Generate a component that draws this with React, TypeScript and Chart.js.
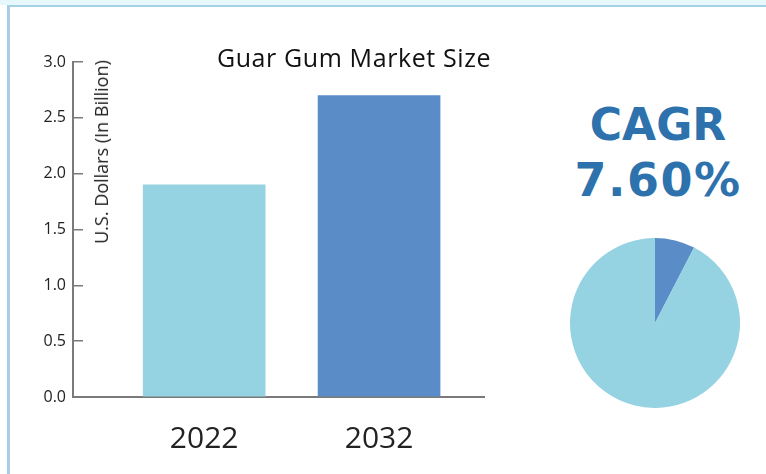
import React, { useEffect, useRef } from "react";
import { Chart, registerables } from "chart.js";

Chart.register(...registerables);

const years = [2022, 2032];
const marketSize = [1.9, 2.7];
const yMin = 0;
const yMax = 3;
const yStep = 0.5;
const cagrLabels = ["CAGR", "Rest"];
const cagrShare = [7.6, 92.4];
const cagrText = "7.60%";
const chartTitle = "Guar Gum Market Size";
const yAxisTitle = "U.S. Dollars (In Billion)";

const LIGHT = "#95d2e2";
const DARK = "#5a8dc8";
const AXIS = "#7a7a7a";
const FONT = "'Open Sans', 'DejaVu Sans', sans-serif";
const BOLD_FONT = "'DejaVu Sans', 'Open Sans', sans-serif";

export default function App() {
  const barRef = useRef<HTMLCanvasElement | null>(null);
  const pieRef = useRef<HTMLCanvasElement | null>(null);

  useEffect(() => {
    document.body.style.margin = "0";
    const bar = new Chart(barRef.current as HTMLCanvasElement, {
      type: "bar",
      data: {
        datasets: [
          {
            data: years.map((y, i) => ({ x: y, y: marketSize[i] })),
            backgroundColor: [LIGHT, DARK],
            borderWidth: 0,
            barThickness: 122,
          },
        ],
      },
      options: {
        responsive: false,
        animation: false,
        devicePixelRatio: 1,
        layout: { padding: { top: 62, bottom: 0, left: 0, right: 16 } },
        plugins: { legend: { display: false }, tooltip: { enabled: false }, title: { display: false } },
        scales: {
          x: {
            type: "linear",
            offset: false,
            min: 2014.5,
            max: 2038,
            afterBuildTicks: (scale: any) => {
              scale.ticks = years.map((v) => ({ value: v }));
            },
            afterFit: (scale: any) => {
              scale.height = 77;
            },
            grid: { display: true, offset: false, drawOnChartArea: false, drawTicks: false },
            border: { display: true, color: AXIS, width: 2 },
            ticks: {
              padding: 24,
              color: "#222",
              font: { family: FONT, size: 30 },
              callback: (v: any) => String(v),
            },
          },
          y: {
            min: yMin,
            max: yMax,
            afterFit: (scale: any) => {
              scale.width = 73;
            },
            grid: { display: true, drawOnChartArea: false, drawTicks: true, tickLength: -10, color: AXIS, lineWidth: 1.5 },
            border: { display: true, color: AXIS, width: 2 },
            ticks: {
              stepSize: yStep,
              padding: 17,
              color: "#222",
              font: { family: FONT, size: 16 },
              callback: (v: any) => Number(v).toFixed(1),
            },
          },
        },
      },
    } as any);

    const pie = new Chart(pieRef.current as HTMLCanvasElement, {
      type: "pie",
      data: {
        labels: cagrLabels,
        datasets: [{ data: cagrShare, backgroundColor: [DARK, LIGHT], borderWidth: 0 }],
      },
      options: {
        responsive: false,
        animation: false,
        devicePixelRatio: 1,
        plugins: { legend: { display: false }, tooltip: { enabled: false } },
      },
    } as any);

    return () => {
      bar.destroy();
      pie.destroy();
    };
  }, []);

  const abs: React.CSSProperties = { position: "absolute", whiteSpace: "nowrap", lineHeight: 1 };

  return (
    <div style={{ position: "fixed", left: 0, top: 0, width: 766, height: 474, background: "#fff", overflow: "hidden", fontFamily: FONT }}>
      <div style={{ position: "absolute", left: 0, top: 0, width: 766, height: 5, background: "#e6f8fb" }} />
      <div style={{ position: "absolute", left: 7, top: 5, width: 780, height: 490, borderTop: "2px solid #a6d3e4", borderLeft: "3px solid #a9cde6" }} />
      <canvas ref={barRef} width={500} height={474} style={{ position: "absolute", left: 0, top: 0 }} />
      <canvas ref={pieRef} width={170} height={170} style={{ position: "absolute", left: 570, top: 238 }} />
      <div style={{ ...abs, left: 354, top: 57, transform: "translate(-50%, -50%)", fontSize: 25, letterSpacing: 0.6, color: "#111" }}>{chartTitle}</div>
      <div style={{ ...abs, left: 101, top: 151.5, transform: "translate(-50%, -50%) rotate(-90deg)", fontSize: 18, color: "#222" }}>{yAxisTitle}</div>
      <div style={{ ...abs, left: 658, top: 125, transform: "translate(-50%, -50%)", fontFamily: BOLD_FONT, fontSize: 44, fontWeight: 700, color: "#2d72ad" }}>CAGR</div>
      <div style={{ ...abs, left: 658, top: 180, transform: "translate(-50%, -50%)", fontFamily: BOLD_FONT, fontSize: 46, fontWeight: 700, letterSpacing: 1.5, color: "#2d72ad" }}>{cagrText}</div>
    </div>
  );
}
